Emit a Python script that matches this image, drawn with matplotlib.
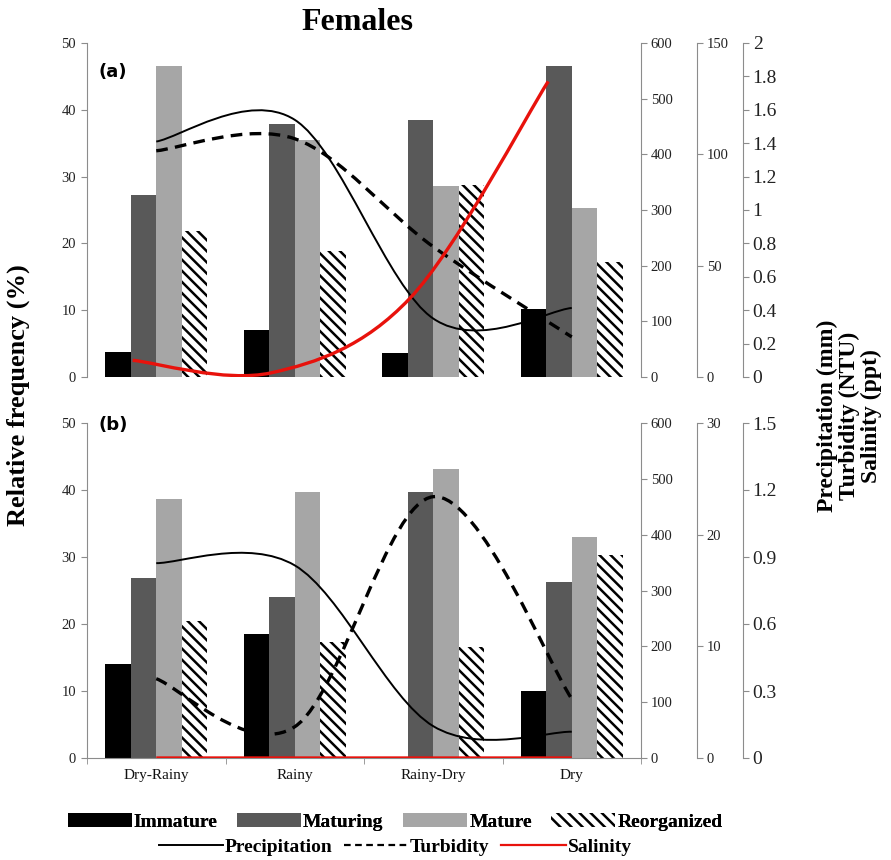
import numpy as np
import matplotlib.pyplot as plt
from matplotlib.path import Path
from matplotlib.patches import PathPatch, Patch
from matplotlib.lines import Line2D

plt.rcParams['font.family'] = ['Liberation Serif', 'DejaVu Serif']
plt.rcParams['hatch.linewidth'] = 1.8

seasons = ['Dry-Rainy', 'Rainy', 'Rainy-Dry', 'Dry']

# panel (a)
immature_a = [3.7, 7.0, 3.6, 10.2]
maturing_a = [27.2, 37.9, 38.5, 46.6]
mature_a = [46.6, 35.5, 28.6, 25.3]
reorganized_a = [21.9, 18.9, 28.7, 17.2]
precip_a = [423, 462, 105, 124]
turbidity_a = [101.6, 107, 58.5, 18]
salinity_a = [0.1, 0.025, 0.47, 1.77]

# panel (b)
immature_b = [14.0, 18.5, 0, 10.0]
maturing_b = [26.8, 24.1, 39.7, 26.3]
mature_b = [38.6, 39.7, 43.2, 33.0]
reorganized_b = [20.4, 17.3, 16.6, 30.3]
precip_b = [349, 345, 57, 47]
turbidity_b = [7.1, 2.8, 23.4, 5.3]
salinity_b = [0, 0, 0, 0]

GRAY = '#8c8c8c'
BAR_COLORS = ['#000000', '#595959', '#a6a6a6', 'white']


def smooth_path(x, y):
    # Excel-like smoothed line: Catmull-Rom turned into cubic Bezier segments
    pts = np.column_stack([x, y]).astype(float)
    ext = np.vstack([pts[0], pts, pts[-1]])
    verts = [pts[0]]
    codes = [Path.MOVETO]
    for i in range(1, len(ext) - 2):
        p0, p1, p2, p3 = ext[i - 1], ext[i], ext[i + 1], ext[i + 2]
        verts += [p1 + (p2 - p0) / 6, p2 - (p3 - p1) / 6, p2]
        codes += [Path.CURVE4] * 3
    return Path(verts, codes)


def add_line(ax, x, y, **kw):
    ax.add_patch(PathPatch(smooth_path(x, y), fill=False, capstyle='butt', **kw))


def style_right(ax, pos, ymax, step, size):
    ax.spines['right'].set_position(('axes', pos))
    for s in ['left', 'top', 'bottom']:
        ax.spines[s].set_visible(False)
    ax.spines['right'].set_color(GRAY)
    ax.set_ylim(0, ymax)
    ax.set_yticks(np.arange(0, ymax + step / 2, step))
    ax.tick_params(axis='y', colors=GRAY, labelcolor='#222222', labelsize=size,
                   length=4, direction='out', pad=3)
    ax.yaxis.set_major_formatter(plt.FuncFormatter(lambda v, p: ('%g' % round(v, 2))))


def panel(rect, label, label_y, bars, precip, turb, sal, turb_max, turb_step,
          sal_max, sal_step, sal_shift, show_x):
    ax = fig.add_axes(rect)
    x = np.arange(len(seasons))
    w = 0.185
    for k, vals in enumerate(bars):
        off = (k - 1.5) * w
        if k == 3:
            ax.bar(x + off, vals, w, color='white', edgecolor='black', hatch='\\\\\\',
                   linewidth=0)
        else:
            ax.bar(x + off, vals, w, color=BAR_COLORS[k], linewidth=0)
    ax.set_xlim(-0.5, 3.5)
    ax.set_ylim(0, 50)
    ax.set_yticks(range(0, 51, 10))
    ax.spines['top'].set_visible(False)
    ax.spines['right'].set_visible(False)
    ax.spines['left'].set_color(GRAY)
    ax.tick_params(axis='y', colors=GRAY, labelcolor='#222222', labelsize=10.5,
                   length=4, pad=4)
    if show_x:
        ax.spines['bottom'].set_color(GRAY)
        ax.set_xticks(x)
        ax.set_xticklabels(seasons, fontsize=11)
        ax.set_xticks(np.arange(-0.5, 4, 1), minor=True)
        ax.tick_params(axis='x', which='major', length=0, pad=8, labelcolor='#111111')
        ax.tick_params(axis='x', which='minor', length=4, colors=GRAY)
    else:
        ax.spines['bottom'].set_visible(False)
        ax.set_xticks([])
    ax.text(0.02, label_y, label, transform=ax.transAxes,
            fontsize=13, fontweight='bold', family='DejaVu Sans', va='center')

    ax_p = ax.twinx()
    style_right(ax_p, 1.0, 600, 100, 10.5)
    add_line(ax_p, x, precip, edgecolor='black', linewidth=1.4)

    ax_t = ax.twinx()
    style_right(ax_t, 1.101, turb_max, turb_step, 10.5)
    add_line(ax_t, x, turb, edgecolor='black', linewidth=2.4, linestyle=(0, (3.5, 2.2)))

    ax_s = ax.twinx()
    style_right(ax_s, 1.184, sal_max, sal_step, 14)
    add_line(ax_s, x + sal_shift, sal, edgecolor='#e8120c', linewidth=2.4)
    for a in (ax_p, ax_t, ax_s):
        a.set_xlim(-0.5, 3.5)
    return ax


fig = plt.figure(figsize=(8.91, 8.6), dpi=100)

panel([87 / 891, 1 - 377 / 860, 554 / 891, 334 / 860], '(a)', 0.913,
      [immature_a, maturing_a, mature_a, reorganized_a],
      precip_a, turbidity_a, salinity_a, 150, 50, 2, 0.2, -0.17, False)
panel([87 / 891, 1 - 758 / 860, 554 / 891, 335 / 860], '(b)', 0.995,
      [immature_b, maturing_b, mature_b, reorganized_b],
      precip_b, turbidity_b, salinity_b, 30, 10, 1.5, 0.3, 0.0, True)

fig.text(357 / 891, 1 - 22 / 860, 'Females', ha='center', va='center',
         fontsize=23, fontweight='bold')
fig.text(18 / 891, 1 - 395 / 860, 'Relative frequency (%)', rotation=90,
         ha='center', va='center', fontsize=19, fontweight='bold')
fig.text(849 / 891, 1 - 416 / 860, 'Precipitation (mm)\nTurbidity (NTU)\nSalinity (ppt)',
         rotation=90, ha='center', va='center', multialignment='center',
         fontsize=17, fontweight='bold', linespacing=1.05)

bar_handles = [Patch(facecolor=BAR_COLORS[0], edgecolor='none'),
               Patch(facecolor=BAR_COLORS[1], edgecolor='none'),
               Patch(facecolor=BAR_COLORS[2], edgecolor='none'),
               Patch(facecolor='white', edgecolor='black', hatch='\\\\\\', linewidth=0)]
leg1 = fig.legend(bar_handles, ['Immature', 'Maturing', 'Mature', 'Reorganized'],
                  loc='center', bbox_to_anchor=(395 / 891, 1 - 822 / 860), ncol=4,
                  frameon=False, handlelength=3.3, handleheight=0.7,
                  handletextpad=0.1, columnspacing=1.0,
                  prop={'weight': 'bold', 'size': 14})
line_handles = [Line2D([], [], color='black', lw=1.4),
                Line2D([], [], color='black', lw=1.6, linestyle=(0, (3, 2))),
                Line2D([], [], color='#e8120c', lw=1.6)]
fig.legend(line_handles, ['Precipitation', 'Turbidity', 'Salinity'],
           loc='center', bbox_to_anchor=(395 / 891, 1 - 847 / 860), ncol=3,
           frameon=False, handlelength=3.3, handletextpad=0.1, columnspacing=0.6,
           prop={'weight': 'bold', 'size': 14})
fig.add_artist(leg1)

fig.savefig('out.png', dpi=100)
